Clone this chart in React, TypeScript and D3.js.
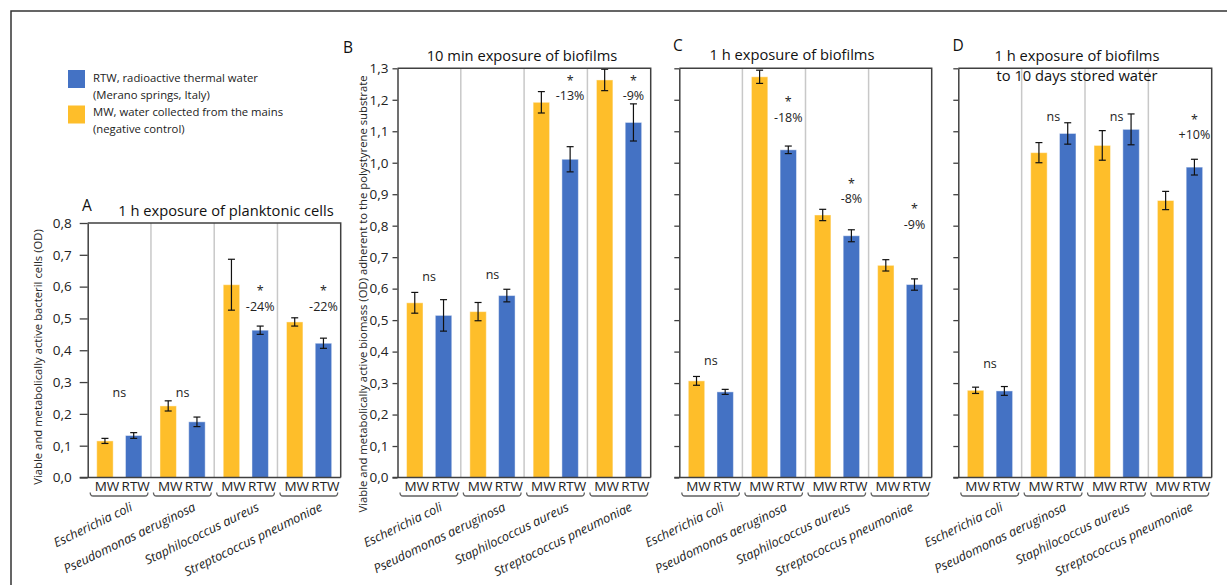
import React, { useRef, useEffect } from "react";
import * as d3 from "d3";

const species = [
  "Escherichia coli",
  "Pseudomonas aeruginosa",
  "Staphilococcus aureus",
  "Streptococcus pneumoniae",
];
const waters = ["MW", "RTW"];

const yTicksPlanktonic = [0, 0.1, 0.2, 0.3, 0.4, 0.5, 0.6, 0.7, 0.8];
const yTicksBiofilm = [0, 0.1, 0.2, 0.3, 0.4, 0.5, 0.6, 0.7, 0.8, 0.9, 1.0, 1.1, 1.2, 1.3];

// A: 1 h exposure of planktonic cells
const planktonicMW = [0.115, 0.225, 0.606, 0.489];
const planktonicMWErr = [0.008, 0.016, 0.08, 0.013];
const planktonicRTW = [0.132, 0.175, 0.463, 0.422];
const planktonicRTWErr = [0.009, 0.015, 0.013, 0.016];
const notesPlanktonic = [["ns"], ["ns"], ["*", "-24%"], ["*", "-22%"]];

// B: 10 min exposure of biofilms
const biofilm10minMW = [0.555, 0.527, 1.192, 1.263];
const biofilm10minMWErr = [0.033, 0.029, 0.034, 0.034];
const biofilm10minRTW = [0.515, 0.578, 1.011, 1.128];
const biofilm10minRTWErr = [0.05, 0.02, 0.04, 0.059];
const notes10min = [["ns"], ["ns"], ["*", "-13%"], ["*", "-9%"]];

// C: 1 h exposure of biofilms
const biofilm1hMW = [0.307, 1.273, 0.834, 0.674];
const biofilm1hMWErr = [0.014, 0.021, 0.018, 0.018];
const biofilm1hRTW = [0.272, 1.041, 0.768, 0.613];
const biofilm1hRTWErr = [0.008, 0.012, 0.019, 0.018];
const notes1h = [["ns"], ["*", "-18%"], ["*", "-8%"], ["*", "-9%"]];

// D: 1 h exposure of biofilms to 10 days stored water
const storedMW = [0.277, 1.032, 1.055, 0.88];
const storedMWErr = [0.01, 0.032, 0.047, 0.029];
const storedRTW = [0.275, 1.093, 1.106, 0.986];
const storedRTWErr = [0.014, 0.034, 0.049, 0.025];
const notesStored = [["ns"], ["ns"], ["ns"], ["*", "+10%"]];

const MW_COLOR = "#FEBE2A";
const RTW_COLOR = "#4472C4";
const FONT = "'Open Sans', 'Noto Sans', sans-serif";
const AXIS = "#404040";

export default function App() {
  const ref = useRef<SVGSVGElement>(null);

  useEffect(() => {
    const svg = d3.select(ref.current);
    svg.selectAll("*").remove();

    // outer frame (top + left only)
    svg.append("path")
      .attr("d", "M11,585V11H1227")
      .attr("fill", "none")
      .attr("stroke", "#333")
      .attr("stroke-width", 1.5);

    // legend
    const legend = svg.append("g").attr("font-family", FONT).attr("font-size", 11.3).attr("fill", "#222");
    legend.append("rect").attr("x", 68).attr("y", 70).attr("width", 17).attr("height", 18).attr("fill", RTW_COLOR);
    legend.append("rect").attr("x", 68).attr("y", 105.5).attr("width", 17).attr("height", 18).attr("fill", MW_COLOR);
    [
      "RTW, radioactive thermal water",
      "(Merano springs, Italy)",
      "MW, water collected from the mains",
      "(negative control)",
    ].forEach((t, i) => {
      legend.append("text")
        .attr("x", 93)
        .attr("y", 77 + i * 17.2)
        .attr("dominant-baseline", "central")
        .text(t);
    });

    const bottom = 477.5;
    const panels = [
      {
        x0: 87.7, x1: 340.7, top: 223, yMax: 0.8, ticks: yTicksPlanktonic, labels: true,
        tickSize: 8, pad: 8,
        mw: planktonicMW, mwErr: planktonicMWErr, rtw: planktonicRTW, rtwErr: planktonicRTWErr,
        notes: notesPlanktonic, noteLevels: [0.267, 0.267, 0.539, 0.539],
        letter: "A", letterPos: [87, 205], title: ["1 h exposure of planktonic cells"], titlePos: [226, 210],
        yLabel: "Viable and metabolically active bacteril cells (OD)", yLabelPos: [37, 357],
      },
      {
        x0: 397.5, x1: 650.7, top: 68.3, yMax: 1.3, ticks: yTicksBiofilm, labels: true,
        tickSize: 5, pad: 4,
        mw: biofilm10minMW, mwErr: biofilm10minMWErr, rtw: biofilm10minRTW, rtwErr: biofilm10minRTWErr,
        notes: notes10min, noteLevels: [0.637, 0.646, 1.212, 1.212],
        letter: "B", letterPos: [348, 46.7], title: ["10 min exposure of biofilms"], titlePos: [522, 55],
        yLabel: "Viable and metabolically active biomass (OD) adherent to the polystyrene substrate",
        yLabelPos: [362, 294],
      },
      {
        x0: 679.3, x1: 931.7, top: 68.3, yMax: 1.3, ticks: yTicksBiofilm, labels: false,
        tickSize: 5, pad: 4,
        mw: biofilm1hMW, mwErr: biofilm1hMWErr, rtw: biofilm1hRTW, rtwErr: biofilm1hRTWErr,
        notes: notes1h, noteLevels: [0.371, 1.144, 0.885, 0.805],
        letter: "C", letterPos: [678, 45], title: ["1 h exposure of biofilms"], titlePos: [792, 54],
        yLabel: "", yLabelPos: [0, 0],
      },
      {
        x0: 958.3, x1: 1211.7, top: 68.3, yMax: 1.3, ticks: yTicksBiofilm, labels: false,
        tickSize: 5, pad: 4,
        mw: storedMW, mwErr: storedMWErr, rtw: storedRTW, rtwErr: storedRTWErr,
        notes: notesStored, noteLevels: [0.362, 1.146, 1.146, 1.089],
        letter: "D", letterPos: [958, 45], title: ["1 h exposure of biofilms", "to 10 days stored water"],
        titlePos: [1077, 55],
        yLabel: "", yLabelPos: [0, 0],
      },
    ];

    panels.forEach(p => {
      const x = d3.scaleBand().domain(species).range([p.x0, p.x1]);
      const bw = x.bandwidth();
      const xi = d3.scalePoint().domain(waters).range([0, bw]).padding(0.6);
      const barW = bw * 0.26;
      const y = d3.scaleLinear().domain([0, p.yMax]).range([bottom, p.top]);

      const g = svg.append("g").attr("font-family", FONT);

      // light separators between species
      g.selectAll(".sep")
        .data(species.slice(1))
        .enter()
        .append("line")
        .attr("x1", d => x(d)!)
        .attr("x2", d => x(d)!)
        .attr("y1", p.top)
        .attr("y2", bottom)
        .attr("stroke", "#c8c8c8")
        .attr("stroke-width", 1.5);

      const series = [
        { key: "MW", vals: p.mw, errs: p.mwErr, color: MW_COLOR },
        { key: "RTW", vals: p.rtw, errs: p.rtwErr, color: RTW_COLOR },
      ];

      series.forEach(s => {
        const rows = species.map((sp, i) => ({ sp, v: s.vals[i], e: s.errs[i] }));
        const cx = (d: { sp: string }) => x(d.sp)! + xi(s.key)!;

        g.selectAll(".bar-" + s.key)
          .data(rows)
          .enter()
          .append("rect")
          .attr("x", d => cx(d) - barW / 2)
          .attr("y", d => y(d.v))
          .attr("width", barW)
          .attr("height", d => y(0) - y(d.v))
          .attr("fill", s.color)
          .attr("stroke", "rgba(255,255,255,0.45)")
          .attr("stroke-width", 1);

        // error bars
        const eb = g.selectAll(".err-" + s.key).data(rows).enter().append("g");
        eb.append("line")
          .attr("x1", d => cx(d)).attr("x2", d => cx(d))
          .attr("y1", d => y(d.v + d.e)).attr("y2", d => y(d.v - d.e))
          .attr("stroke", "#111").attr("stroke-width", 1.2);
        [1, -1].forEach(sign => {
          eb.append("line")
            .attr("x1", d => cx(d) - 3.5).attr("x2", d => cx(d) + 3.5)
            .attr("y1", d => y(d.v + sign * d.e)).attr("y2", d => y(d.v + sign * d.e))
            .attr("stroke", "#111").attr("stroke-width", 1.2);
        });

        // MW / RTW category labels
        g.selectAll(".cat-" + s.key)
          .data(rows)
          .enter()
          .append("text")
          .attr("x", d => cx(d) + 2)
          .attr("y", 486)
          .attr("text-anchor", "middle")
          .attr("dominant-baseline", "central")
          .attr("font-size", 13.5)
          .attr("fill", "#222")
          .text(s.key);
      });

      // left axis
      const fmt = d3.format(".1f");
      const axis = d3.axisLeft(y)
        .tickValues(p.ticks)
        .tickSize(p.tickSize)
        .tickSizeOuter(0)
        .tickPadding(p.pad)
        .tickFormat(d => (p.labels ? fmt(d as number).replace(".", ",") : ""));
      const ax = g.append("g").attr("transform", `translate(${p.x0},0)`).call(axis);
      ax.select(".domain").attr("stroke", AXIS).attr("stroke-width", 1.5);
      ax.selectAll(".tick line").attr("stroke", AXIS).attr("stroke-width", 1.3);
      ax.selectAll(".tick text")
        .attr("font-family", FONT)
        .attr("font-size", 13.5)
        .attr("fill", "#222");

      // plot frame: top, right, baseline
      g.append("path")
        .attr("d", `M${p.x0},${p.top}H${p.x1}V${bottom}M${p.x0 - p.tickSize},${bottom}H${p.x1}`)
        .attr("fill", "none")
        .attr("stroke", AXIS)
        .attr("stroke-width", 1.5);

      // brackets under MW/RTW pairs
      g.selectAll(".bracket")
        .data(species)
        .enter()
        .append("path")
        .attr("d", d => {
          const a = x(d)! + 2.5;
          const b = x(d)! + bw - 3;
          return `M${a},492.5Q${a},496 ${a + 3},496H${b - 3}Q${b},496 ${b},492.5`;
        })
        .attr("fill", "none")
        .attr("stroke", "#606060")
        .attr("stroke-width", 1.3);

      // species labels, rotated
      g.selectAll(".species")
        .data(species)
        .enter()
        .append("text")
        .attr("transform", d => `translate(${x(d)! + bw / 2 + 14},510) rotate(-26)`)
        .attr("text-anchor", "end")
        .attr("font-size", 12.7)
        .attr("font-style", "italic")
        .attr("fill", "#222")
        .text(d => d);

      // significance notes
      species.forEach((sp, i) => {
        const lines = p.notes[i];
        const level = y(p.noteLevels[i]);
        if (lines.length === 1) {
          g.append("text")
            .attr("x", x(sp)! + bw / 2)
            .attr("y", level)
            .attr("text-anchor", "middle")
            .attr("dominant-baseline", "central")
            .attr("font-size", 12.5)
            .attr("fill", "#222")
            .text(lines[0]);
        } else {
          const nx = x(sp)! + xi("RTW")!;
          g.append("text")
            .attr("x", nx)
            .attr("y", level - 11)
            .attr("text-anchor", "middle")
            .attr("font-size", 12.5)
            .attr("fill", "#222")
            .text(lines[0]);
          g.append("text")
            .attr("x", nx)
            .attr("y", level)
            .attr("text-anchor", "middle")
            .attr("dominant-baseline", "central")
            .attr("font-size", 12.5)
            .attr("fill", "#222")
            .text(lines[1]);
        }
      });

      // y axis label
      if (p.yLabel) {
        g.append("text")
          .attr("transform", `translate(${p.yLabelPos[0]},${p.yLabelPos[1]}) rotate(-90)`)
          .attr("text-anchor", "middle")
          .attr("dominant-baseline", "central")
          .attr("font-size", 11.3)
          .attr("fill", "#222")
          .text(p.yLabel);
      }

      // panel letter and title
      g.append("text")
        .attr("x", p.letterPos[0])
        .attr("y", p.letterPos[1])
        .attr("text-anchor", "middle")
        .attr("dominant-baseline", "central")
        .attr("font-size", 15.5)
        .attr("fill", "#111")
        .text(p.letter);
      p.title.forEach((t, i) => {
        g.append("text")
          .attr("x", p.titlePos[0])
          .attr("y", p.titlePos[1] + i * 19.5)
          .attr("text-anchor", "middle")
          .attr("dominant-baseline", "central")
          .attr("font-size", 14.7)
          .attr("fill", "#111")
          .text(t);
      });
    });
  }, []);

  return (
    <svg
      ref={ref}
      width={1227}
      height={585}
      style={{ position: "absolute", left: 0, top: 0, background: "#fff" }}
    />
  );
}
